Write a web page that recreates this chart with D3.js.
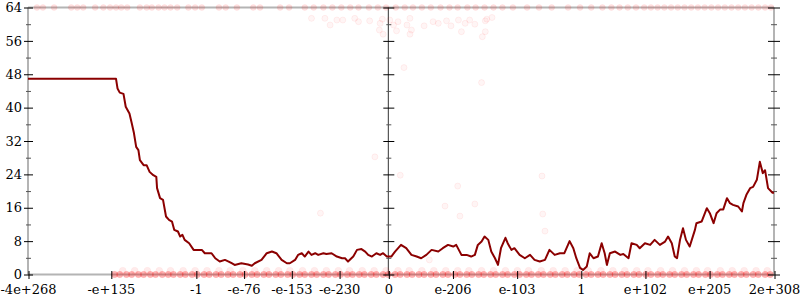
<!DOCTYPE html>
<html>
<head>
<meta charset="utf-8">
<script src="https://cdn.jsdelivr.net/npm/d3@7"></script>
<style>
  body { margin: 0; background: #fff; }
  svg { display: block; }
  text { font-family: "DejaVu Serif", serif; font-size: 13px; fill: #000; }
</style>
</head>
<body>
<svg id="chart" width="800" height="300"></svg>
<script>
// x is the ordinal position of the float (0..100 along the axis), y is bits of error
const xTickPos = [0, 11.1, 22.5, 28.9, 35.3, 41.7, 48.3, 56.9, 65.5, 74.1, 82.7, 91.3, 100];
const xTickLabels = ["-4e+268", "-e+135", "-1", "-e-76", "-e-153", "-e-230", "0",
                     "e-206", "e-103", "1", "e+102", "e+205", "2e+308"];
const yMajor = [0, 8, 16, 24, 32, 40, 48, 56, 64];
const yMinor = [4, 12, 20, 28, 36, 44, 52, 60];

// average error line
const errorLine = [
  [0, 46.9], [11.8, 46.9], [12.0, 44.6], [12.3, 43.6], [12.8, 43.3], [13.1, 40.2], [13.6, 38.6],
  [13.9, 36.3], [14.2, 33.9], [14.5, 30.6], [14.8, 29.8], [15.0, 27.4], [15.5, 26.2], [15.9, 26.2],
  [16.3, 24.6], [16.8, 23.8], [17.2, 23.4], [17.3, 20.7], [17.7, 18.3], [18.1, 17.9], [18.5, 13.9],
  [18.9, 13.1], [19.3, 12.7], [19.6, 10.7], [20.1, 10.3], [20.4, 9.1], [20.7, 9.5], [21.0, 8.3],
  [21.6, 7.5], [22.2, 5.9], [22.8, 5.9], [23.3, 5.9], [23.7, 5.1], [24.6, 5.1], [25.1, 3.9],
  [25.7, 3.1], [26.4, 3.5], [26.9, 3.1], [27.3, 2.7], [27.7, 2.3], [28.6, 2.7], [29.5, 2.4],
  [30.0, 2.1], [30.4, 2.7], [31.3, 3.5], [32.0, 5.1], [32.7, 5.5], [33.3, 5.1], [34.0, 3.5],
  [34.7, 2.7], [35.1, 2.7], [35.8, 3.5], [36.2, 4.7], [36.7, 5.1], [37.1, 4.3], [37.6, 5.5],
  [38.0, 4.7], [38.5, 5.1], [38.9, 4.7], [39.6, 5.1], [40.0, 4.9], [40.7, 5.1], [41.4, 4.3],
  [42.1, 3.9], [42.5, 3.9], [42.9, 3.1], [43.6, 4.3], [44.1, 5.9], [44.7, 6.1], [45.2, 5.5],
  [45.6, 4.7], [46.1, 4.3], [46.7, 5.1], [47.2, 4.7], [47.6, 5.1], [48.1, 4.3], [48.7, 4.3],
  [49.2, 5.5], [50.0, 7.1], [50.7, 6.3], [51.4, 4.7], [52.1, 4.3], [52.7, 3.9], [53.4, 4.7],
  [54.1, 5.9], [55.0, 5.5], [55.6, 6.3], [56.3, 7.1], [57.0, 6.7], [57.4, 7.1], [58.1, 4.7],
  [58.8, 4.7], [59.4, 4.3], [59.9, 4.7], [60.3, 7.1], [60.8, 7.9], [61.2, 9.1], [61.7, 8.3],
  [62.1, 5.5], [62.6, 3.9], [63.0, 2.3], [63.4, 6.3], [64.0, 8.8], [64.3, 7.5], [64.8, 5.9],
  [65.2, 6.3], [65.9, 4.7], [66.6, 3.9], [67.3, 4.7], [67.9, 3.5], [68.6, 3.1], [69.3, 3.5],
  [69.9, 5.9], [70.6, 4.7], [71.3, 5.1], [71.9, 5.1], [72.6, 8.0], [73.1, 6.3], [73.5, 3.9],
  [74.0, 1.6], [74.4, 1.1], [74.9, 1.9], [75.3, 5.1], [75.8, 3.9], [76.4, 4.3], [76.9, 7.5],
  [77.3, 5.1], [77.6, 2.3], [78.0, 5.1], [78.7, 5.5], [79.4, 4.7], [79.8, 4.9], [80.5, 3.9],
  [80.9, 7.5], [81.6, 7.1], [82.0, 6.3], [82.7, 7.5], [83.4, 7.1], [84.0, 8.3], [84.7, 7.1],
  [85.4, 7.9], [85.8, 9.1], [86.3, 7.5], [86.7, 4.3], [87.0, 3.9], [87.4, 8.3], [87.8, 11.1],
  [88.2, 8.3], [88.7, 6.7], [89.4, 10.7], [89.6, 12.3], [90.3, 12.7], [91.0, 15.9], [91.4, 14.7],
  [91.9, 12.3], [92.3, 14.7], [92.8, 15.6], [93.2, 15.6], [93.7, 18.3], [94.1, 17.1], [94.5, 16.7],
  [95.2, 16.3], [95.7, 15.1], [95.9, 17.1], [96.3, 19.1], [96.8, 20.7], [97.2, 21.0], [97.7, 22.7],
  [98.1, 27.0], [98.5, 24.3], [98.8, 25.0], [99.2, 20.7], [99.8, 19.6], [100, 19.6]
];

// individual samples: exact (0 bits), near exact (~1 bit), fully wrong (64 bits)
const exactSampleX = [
  11.6, 12.3, 13.2, 13.9, 14.8, 15.5, 16.4, 17.1, 18.0, 18.8, 19.5, 20.4, 21.1, 22.0, 22.7, 23.6,
  24.3, 25.2, 25.9, 26.8, 27.5, 28.4, 29.1, 30.0, 30.7, 31.6, 32.3, 33.2, 33.9, 34.8, 35.5, 36.4,
  37.1, 38.0, 38.7, 39.6, 40.3, 41.2, 41.9, 42.8, 43.5, 44.4, 45.1, 46.0, 46.7, 47.6, 48.3, 49.2,
  49.9, 50.8, 51.5, 52.4, 53.1, 54.0, 54.7, 55.6, 56.3, 57.2, 57.9, 58.8, 59.5, 60.4, 61.1, 62.0,
  62.7, 63.6, 64.3, 65.2, 65.9, 66.8, 67.5, 68.4, 69.1, 70.0, 70.7, 71.6, 72.3, 73.2, 73.9, 74.8,
  75.5, 76.4, 77.1, 78.0, 78.7, 79.6, 80.3, 81.2, 81.9, 82.8, 83.5, 84.4, 85.1, 86.0, 86.7, 87.6,
  88.3, 89.2, 89.9, 90.8, 91.5, 92.4, 93.1, 94.0, 94.7, 95.6, 96.3, 97.2, 97.9, 98.8, 99.5
];
const nearExactSampleX = [
  12.7, 14.3, 16.0, 17.6, 19.1, 20.8, 22.4, 24.0, 25.6, 27.1, 28.8, 30.4, 32.0, 33.6, 35.1, 36.8,
  38.4, 40.0, 41.6, 43.1, 44.8, 46.4, 48.0, 49.6, 51.1, 52.8, 54.4, 56.0, 57.6, 59.1, 60.8, 62.4,
  64.0, 65.6, 67.1, 68.8, 70.4, 72.0, 73.6, 75.1, 76.8, 78.4, 80.0, 81.6, 83.1, 84.8, 86.4, 88.0,
  89.6, 91.1, 92.8, 94.4, 96.0, 97.6, 99.1
];
const wrongSampleX = [
  1.2, 2.0, 3.5, 5.8, 6.6, 7.4, 9.0, 10.1, 11.0, 11.8, 12.5, 13.3, 15.0, 15.9, 16.6, 17.5,
  18.3, 19.1, 20.0, 21.5, 22.4, 23.3, 25.6, 26.5, 28.0, 30.2, 31.1, 33.8, 35.0, 37.1, 38.3, 39.6,
  40.8, 42.0, 43.2, 44.3, 45.7, 46.9, 48.0, 49.3, 50.5, 51.6, 52.8, 54.0, 55.3, 56.5, 57.6, 58.9,
  60.0, 61.2, 62.4, 63.6, 65.0, 66.9, 68.5, 70.2, 72.4, 74.0, 75.5, 77.0, 78.2, 79.3, 80.4, 81.5,
  82.6, 83.5, 84.4, 85.3, 86.2, 87.1, 88.0, 88.9, 89.8, 90.7, 91.6, 92.5, 93.4, 94.3, 95.2, 96.1,
  97.0, 97.9, 98.8, 99.6
];
// samples elsewhere
const otherSamples = [
  [38.0, 61.4], [39.8, 61.4], [40.5, 59.8], [41.4, 61.0], [42.2, 61.0], [43.8, 61.4], [44.3, 60.6],
  [45.8, 60.8], [47.2, 60.2], [47.1, 58.6], [47.6, 57.6], [47.5, 61.2], [48.5, 61.0], [49.0, 59.8],
  [49.6, 60.6], [49.4, 58.4], [50.8, 59.8], [51.2, 61.4], [51.4, 58.6], [51.2, 57.6], [53.1, 59.6],
  [54.3, 60.6], [55.0, 60.2], [56.1, 60.8], [56.7, 59.6], [57.7, 61.0], [58.1, 58.2], [58.6, 60.2],
  [59.2, 61.0], [59.9, 60.0], [61.3, 60.8], [61.5, 61.2], [62.2, 61.6], [61.3, 58.2], [60.9, 57.0],
  [50.4, 49.6], [60.8, 46.0],
  [39.2, 14.7], [46.5, 28.2], [49.9, 23.8], [57.6, 21.2], [59.9, 16.9], [55.9, 16.4], [57.9, 14.0],
  [68.9, 23.6], [69.0, 14.5], [69.3, 10.4], [53.8, 3.5]
];

const svg = d3.select("#chart");

const x = d3.scaleLinear().domain([0, 100]).range([28, 774]);
const y = d3.scaleLinear().domain([0, 64]).range([274.5, 7.5]);

const frame = svg.append("g");
// grey border: left, right, top, bottom
frame.append("line").attr("x1", x(0)).attr("x2", x(0)).attr("y1", y(64)).attr("y2", y(0));
frame.append("line").attr("x1", x(100)).attr("x2", x(100)).attr("y1", y(64)).attr("y2", y(0));
frame.append("line").attr("x1", x(0)).attr("x2", x(100)).attr("y1", y(64)).attr("y2", y(64));
frame.append("line").attr("x1", x(0)).attr("x2", x(100)).attr("y1", y(0)).attr("y2", y(0));
frame.selectAll("line").attr("stroke", "#b4b4b4").attr("stroke-width", 2);

// zero line in x
svg.append("line")
    .attr("x1", x(48.3)).attr("x2", x(48.3))
    .attr("y1", y(64)).attr("y2", y(0))
    .attr("stroke", "#333").attr("stroke-width", 1);

// samples
const samples = svg.append("g");
function drawSamples(pts, fillOp, strokeOp, r) {
    samples.append("g").selectAll("circle")
        .data(pts)
        .enter().append("circle")
        .attr("cx", d => x(d[0]))
        .attr("cy", d => y(d[1]))
        .attr("r", r)
        .attr("fill", "red")
        .attr("fill-opacity", fillOp)
        .attr("stroke", "red")
        .attr("stroke-opacity", strokeOp);
}
drawSamples(nearExactSampleX.map(d => [d, 0.9]), 0.08, 0.03, 3.5);
drawSamples(exactSampleX.map(d => [d, 0]), 0.3, 0.08, 3.2);
drawSamples(wrongSampleX.map(d => [d, 64]), 0.12, 0.04, 3);
drawSamples(otherSamples, 0.04, 0.06, 3);

// y axes (left, middle, right), major ticks cross the line
function yAxis(cx, major, minor, labels) {
    const g1 = svg.append("g")
        .attr("transform", `translate(${cx + major / 2},0)`)
        .call(d3.axisLeft(y).tickValues(yMajor).tickSize(major).tickPadding(labels ? 2 : 0)
            .tickFormat(labels ? d3.format("d") : ""));
    g1.select(".domain").remove();
    g1.selectAll("line").attr("stroke", "#000");
    g1.selectAll("text").attr("font-family", "DejaVu Serif").attr("font-size", 13).attr("fill", "#000");
    const g2 = svg.append("g")
        .attr("transform", `translate(${cx + minor / 2},0)`)
        .call(d3.axisLeft(y).tickValues(yMinor).tickSize(minor).tickFormat(""));
    g2.select(".domain").remove();
    g2.selectAll("line").attr("stroke", "#555");
}
yAxis(x(0) + 0.5, 9, 5, true);
yAxis(x(48.3) + 0.5, 11, 5, false);
yAxis(x(100), 12, 6, false);

// x axis
const gx = svg.append("g")
    .attr("transform", `translate(0,${y(0) - 3.5})`)
    .call(d3.axisBottom(x).tickValues(xTickPos).tickSize(8).tickPadding(6)
        .tickFormat((d, i) => xTickLabels[i]));
gx.select(".domain").remove();
gx.selectAll("line").attr("stroke", "#000").attr("transform", "translate(0.5,0)");
gx.selectAll("text").attr("font-family", "DejaVu Serif").attr("font-size", 13).attr("fill", "#000");

// error line
svg.append("path")
    .datum(errorLine)
    .attr("fill", "none")
    .attr("stroke", "#8b0000")
    .attr("stroke-width", 2)
    .attr("stroke-linejoin", "round")
    .attr("d", d3.line().x(d => x(d[0])).y(d => y(d[1])));
</script>
</body>
</html>
